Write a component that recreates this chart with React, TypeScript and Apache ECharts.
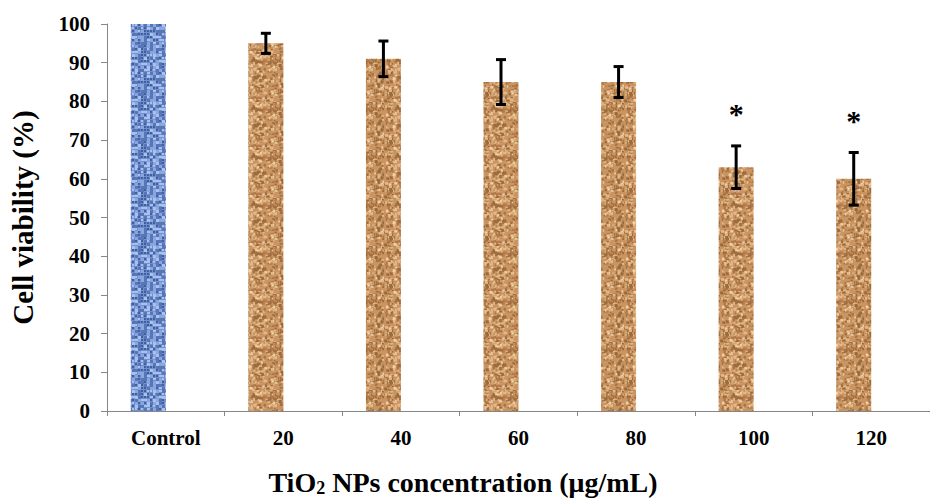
import React, { useEffect, useRef } from "react";
import * as echarts from "echarts";

const categories = ["Control", "20", "40", "60", "80", "100", "120"];
const viability = [100, 95, 91, 85, 85, 63, 60];
const errors = [0, 2.6, 4.6, 5.8, 4, 5.5, 6.8];
const marks = ["", "", "", "", "", "*", "*"];
const yTicks = [0, 10, 20, 30, 40, 50, 60, 70, 80, 90, 100];

const FONT = "'Liberation Serif', 'DejaVu Serif', serif";
const BAR_W = 35;

function makeTexture(kind: "blue" | "brown"): HTMLCanvasElement {
  const c = document.createElement("canvas");
  c.width = 48;
  c.height = 48;
  const ctx = c.getContext("2d")!;
  let s = kind === "blue" ? 12345 : 67890;
  const rnd = () => {
    s = (s * 1103515245 + 12345) & 0x7fffffff;
    return s / 0x7fffffff;
  };
  if (kind === "blue") {
    ctx.fillStyle = "#6f8fcf";
    ctx.fillRect(0, 0, 48, 48);
    for (let y = 0; y < 48; y += 3) {
      for (let x = 0; x < 48; x += 3) {
        const r = rnd();
        ctx.fillStyle = r < 0.3 ? "#3f5f9f" : r < 0.6 ? "#a9c1ec" : r < 0.8 ? "#5676b8" : "#8aa6dc";
        ctx.fillRect(x, y, 2 + (r > 0.4 ? 1 : 0), 2 + (r > 0.5 ? 1 : 0));
      }
    }
  } else {
    ctx.fillStyle = "#c99460";
    ctx.fillRect(0, 0, 48, 48);
    for (let i = 0; i < 420; i++) {
      const x = rnd() * 48;
      const y = rnd() * 48;
      const r = rnd();
      ctx.fillStyle = r < 0.35 ? "#9c6a3c" : r < 0.7 ? "#e2b88a" : r < 0.85 ? "#b07a48" : "#f0d0a8";
      ctx.fillRect(x, y, 1 + rnd() * 2.5, 1 + rnd() * 2);
    }
  }
  return c;
}

export default function App() {
  const ref = useRef<HTMLDivElement>(null);
  useEffect(() => {
    if (!ref.current) return;
    const chart = echarts.init(ref.current, undefined, { renderer: "svg" });
    const blue = { image: makeTexture("blue"), repeat: "repeat" } as any;
    const brown = { image: makeTexture("brown"), repeat: "repeat" } as any;
    const axisLabel = { fontFamily: FONT, fontWeight: "bold", fontSize: 21, color: "#000" };
    chart.setOption({
      animation: false,
      backgroundColor: "#fff",
      grid: { left: 107, top: 24, height: 387, width: 834, containLabel: false },
      xAxis: {
        type: "category",
        data: categories,
        axisLine: { lineStyle: { color: "#868686", width: 1 } },
        axisTick: { show: true, length: 5, lineStyle: { color: "#868686" } },
        axisLabel: { ...axisLabel, margin: 16 },
        splitLine: { show: false },
      },
      yAxis: {
        type: "value",
        min: 0,
        max: 100,
        interval: 10,
        name: "Cell viability (%)",
        nameLocation: "middle",
        nameRotate: 90,
        nameGap: 70,
        nameTextStyle: { fontFamily: FONT, fontWeight: "bold", fontSize: 29, color: "#000" },
        axisLine: { show: true, lineStyle: { color: "#868686", width: 1 } },
        axisTick: { show: true, length: 6, lineStyle: { color: "#868686" } },
        axisLabel: {
          ...axisLabel,
          margin: 17,
          formatter: (v: number) => (yTicks.includes(v) ? String(v) : ""),
        },
        splitLine: { show: false },
      },
      series: [
        {
          type: "bar",
          barWidth: BAR_W,
          barGap: "0%",
          data: viability.map((v, i) => ({
            value: v,
            itemStyle: { color: i === 0 ? blue : brown },
          })),
        },
        { type: "bar", barWidth: BAR_W, data: viability.map(() => null) },
        {
          type: "custom",
          data: viability.map((v, i) => [i, v, errors[i]]),
          renderItem: (params: any, api: any) => {
            const i = api.value(0);
            const v = api.value(1);
            const e = api.value(2);
            const mark = marks[i];
            const top = api.coord([i, v + e]);
            const bot = api.coord([i, v - e]);
            const x = top[0] - BAR_W / 2;
            const children: any[] = [];
            if (e > 0) {
              const st = { stroke: "#000", lineWidth: 3 };
              children.push(
                { type: "line", shape: { x1: x, y1: top[1], x2: x, y2: bot[1] }, style: st },
                { type: "line", shape: { x1: x - 5, y1: top[1], x2: x + 5, y2: top[1] }, style: st },
                { type: "line", shape: { x1: x - 5, y1: bot[1], x2: x + 5, y2: bot[1] }, style: st }
              );
            }
            if (mark) {
              children.push({
                type: "text",
                style: {
                  text: mark,
                  x: x,
                  y: top[1] - 32,
                  align: "center",
                  verticalAlign: "middle",
                  fontFamily: FONT,
                  fontWeight: "bold",
                  fontSize: 30,
                  fill: "#000",
                },
              });
            }
            return { type: "group", children };
          },
          z: 10,
        },
      ],
      graphic: [
        {
          type: "text",
          x: 463,
          y: 482,
          style: {
            text: "{a|TiO}{s|2}{a| NPs concentration (μg/mL)}",
            align: "center",
            verticalAlign: "middle",
            rich: {
              a: { fontFamily: FONT, fontWeight: "bold", fontSize: 28, fill: "#000" },
              s: { fontFamily: FONT, fontWeight: "bold", fontSize: 18, fill: "#000", padding: [12, 0, 0, 0] },
            },
          },
        },
      ],
    });
    return () => chart.dispose();
  }, []);
  return (
    <div
      ref={ref}
      style={{ position: "fixed", left: 0, top: 0, width: 930, height: 499, background: "#fff" }}
    />
  );
}
